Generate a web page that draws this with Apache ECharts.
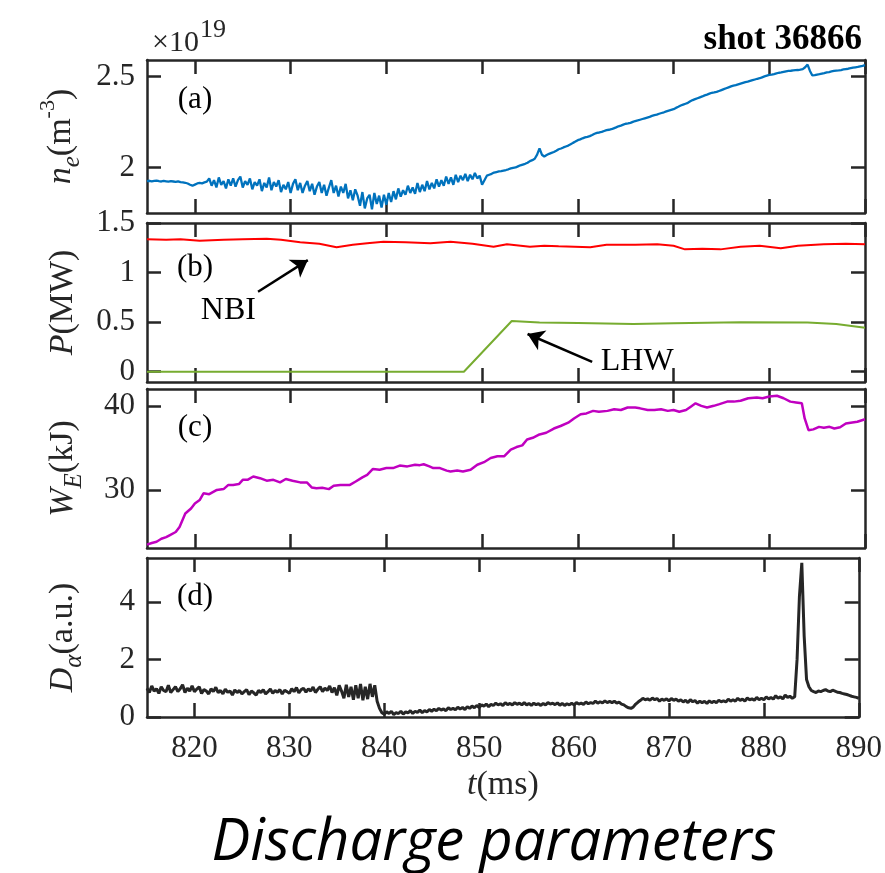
<!DOCTYPE html>
<html><head><meta charset="utf-8">
<script src="https://cdn.jsdelivr.net/npm/echarts@6/dist/echarts.min.js"></script>
<style>html,body{margin:0;padding:0;background:#fff}#c{width:885px;height:873px}</style>
</head><body><div id="c"></div>
<script>
// ---------- DATA ----------
const tStart = 815, tStep = 0.25;          // sample grid of the noisy signals (ms)
// (a) line-averaged density, units of 1e19 m^-3, one row = 5 ms
const neValues = [
  1.925,1.927,1.924,1.926,1.928,1.925,1.923,1.926,1.924,1.922,1.925,1.923,1.921,1.924,1.92,1.918,1.916,1.912,1.905,1.900,
  1.906,1.912,1.915,1.913,1.918,1.922,1.94,1.9,1.93,1.89,1.945,1.905,1.925,1.885,1.935,1.9,1.94,1.895,1.93,1.95,
  1.89,1.925,1.905,1.94,1.88,1.92,1.9,1.935,1.87,1.915,1.89,1.945,1.875,1.92,1.895,1.93,1.865,1.905,1.88,1.92,
  1.86,1.91,1.935,1.875,1.915,1.86,1.9,1.925,1.87,1.91,1.85,1.895,1.92,1.86,1.905,1.845,1.89,1.93,1.86,1.9,
  1.84,1.895,1.86,1.91,1.83,1.875,1.82,1.88,1.845,1.79,1.865,1.775,1.83,1.85,1.77,1.86,1.8,1.845,1.78,1.85,
  1.795,1.86,1.81,1.87,1.825,1.885,1.84,1.875,1.85,1.9,1.86,1.89,1.855,1.915,1.865,1.905,1.87,1.925,1.88,1.915,
  1.885,1.935,1.895,1.93,1.9,1.95,1.91,1.945,1.905,1.96,1.92,1.955,1.93,1.965,1.925,1.96,1.935,1.97,1.94,1.955,
  1.905,1.93,1.955,1.96,1.965,1.972,1.975,1.978,1.98,1.983,1.986,1.99,1.995,1.998,2.0,2.006,2.012,2.016,2.02,2.026,
  2.035,2.04,2.048,2.07,2.105,2.07,2.06,2.068,2.075,2.08,2.085,2.092,2.10,2.104,2.11,2.115,2.12,2.127,2.135,2.142,
  2.15,2.154,2.16,2.165,2.168,2.172,2.178,2.185,2.19,2.192,2.195,2.2,2.205,2.207,2.21,2.215,2.22,2.226,2.23,2.235,
  2.24,2.242,2.245,2.25,2.255,2.258,2.262,2.266,2.27,2.274,2.278,2.283,2.287,2.29,2.295,2.299,2.303,2.308,2.312,2.316,
  2.32,2.327,2.333,2.34,2.345,2.35,2.355,2.363,2.37,2.375,2.38,2.385,2.39,2.396,2.40,2.405,2.41,2.412,2.415,2.42,
  2.425,2.43,2.435,2.44,2.445,2.449,2.452,2.456,2.46,2.464,2.468,2.471,2.475,2.479,2.483,2.487,2.49,2.495,2.50,2.504,
  2.508,2.51,2.513,2.517,2.52,2.522,2.525,2.528,2.53,2.531,2.533,2.534,2.535,2.537,2.54,2.55,2.565,2.53,2.505,2.507,
  2.51,2.512,2.515,2.518,2.522,2.524,2.527,2.53,2.532,2.533,2.535,2.538,2.54,2.542,2.545,2.548,2.55,2.552,2.555,2.558,
  2.562
];
// (b) heating power, MW : [t, P]
const nbiPower = [[815,1.335],[817,1.33],[818.5,1.335],[820.5,1.32],[823,1.33],[825,1.335],[827.5,1.34],[829,1.33],[831,1.305],[833,1.29],[834.8,1.255],[836.5,1.28],[838,1.295],[839.7,1.31],[842,1.305],[844.6,1.295],[846.7,1.31],[849,1.29],[851.2,1.26],[852.6,1.285],[855,1.26],[856.5,1.27],[858,1.265],[861.3,1.255],[863,1.28],[866,1.28],[868.3,1.285],[870,1.27],[871.2,1.234],[873,1.24],[874.9,1.234],[877,1.26],[879,1.27],[881.2,1.245],[883,1.27],[885.7,1.285],[888,1.29],[890,1.285]];
const lhwPower = [[815,0],[848.1,0],[853.1,0.511],[856,0.495],[860,0.49],[865.8,0.48],[870,0.488],[877,0.50],[884,0.495],[887,0.48],[890,0.443]];
// (c) stored energy, kJ : [t, W]
const storedEnergy = [[815,23.5],[815.5,23.7],[816,23.85],[816.5,24.2],[817,24.4],[817.4,24.64],[818,25.0],[818.4,25.6],[819,27.2],[819.6,27.8],[820,28.4],[820.5,28.8],[820.9,29.6],[821.5,29.5],[822.3,30.0],[823,30.1],[823.5,30.6],[824,30.6],[824.6,30.7],[825,31.2],[825.5,31.2],[826.1,31.6],[826.8,31.4],[827.5,31.1],[828.2,31.2],[828.9,30.9],[829.5,31.3],[830.2,31.1],[831,30.9],[831.7,30.9],[832.2,30.3],[832.7,30.2],[833.3,30.25],[834,30.1],[834.5,30.5],[835.2,30.6],[836.2,30.6],[836.8,31.0],[837.5,31.5],[838,31.8],[838.6,32.5],[839.3,32.4],[840,32.6],[840.7,32.6],[841.4,32.9],[842.2,32.8],[843,33.0],[843.5,32.95],[843.9,33.05],[844.5,32.8],[844.9,32.6],[845.6,32.6],[846.3,32.3],[846.7,32.2],[847.4,32.3],[848,32.2],[848.8,32.4],[849.5,33.0],[850.2,33.3],[850.9,33.8],[851.6,34.0],[852.3,34.0],[853,34.8],[853.6,35.1],[854.2,35.3],[854.7,36.0],[855.3,36.2],[856,36.6],[856.7,36.8],[857.5,37.3],[858.2,37.6],[859,38.0],[859.6,38.5],[860.3,39.0],[860.9,39.1],[861.6,39.4],[862.2,39.3],[863.1,39.4],[863.8,39.6],[864.5,39.5],[865.2,39.8],[866,39.8],[866.5,39.7],[867.3,39.5],[868,39.5],[868.7,39.6],[869.4,39.4],[870,39.5],[870.6,39.3],[871.3,39.5],[871.8,39.9],[872.3,40.3],[872.9,40.0],[873.5,39.8],[874.2,40.0],[874.8,40.2],[875.6,40.5],[876.3,40.5],[877,40.6],[877.8,40.9],[878.7,41.0],[879.3,40.9],[880,41.1],[880.8,41.2],[881.5,40.9],[882.2,40.5],[882.8,40.4],[883.4,40.3],[883.7,38.5],[884.1,37.1],[884.6,37.2],[885.2,37.5],[885.7,37.4],[886.3,37.5],[886.8,37.3],[887.4,37.45],[888,37.9],[888.5,38.0],[889.2,38.1],[890,38.4]];
// (d) D-alpha, a.u., one row = 5 ms
const daValues = [
  1.0,0.85,1.08,0.9,0.98,0.82,1.05,0.92,0.88,1.1,0.85,0.95,1.05,0.88,0.98,1.12,0.85,1.0,0.9,1.08,
  0.88,0.97,1.05,0.82,0.95,0.9,0.8,0.98,0.88,1.03,0.85,0.92,0.8,0.97,0.86,0.9,0.76,0.94,0.85,0.92,
  0.8,0.88,0.95,0.78,0.9,0.84,0.76,0.92,0.85,0.95,0.8,0.88,0.97,0.82,0.92,0.86,0.95,0.8,0.93,0.88,
  0.82,0.98,0.88,1.02,0.84,0.95,1.0,0.86,0.98,0.9,1.04,0.85,0.96,1.05,0.88,1.0,0.92,1.08,0.85,1.02,
  0.75,1.1,0.9,0.65,1.12,0.7,1.05,0.6,1.1,0.65,1.15,0.58,1.05,0.62,1.15,0.7,1.1,0.55,0.3,0.15,
  0.1,0.18,0.12,0.2,0.08,0.15,0.12,0.2,0.1,0.18,0.14,0.22,0.12,0.2,0.16,0.24,0.15,0.22,0.18,0.26,
  0.2,0.27,0.22,0.3,0.24,0.28,0.22,0.32,0.26,0.3,0.25,0.34,0.28,0.33,0.26,0.36,0.3,0.38,0.32,0.4,
  0.33,0.42,0.38,0.45,0.36,0.44,0.4,0.48,0.42,0.46,0.4,0.5,0.43,0.47,0.42,0.5,0.44,0.48,0.42,0.5,
  0.42,0.47,0.4,0.48,0.43,0.46,0.4,0.47,0.42,0.5,0.45,0.48,0.43,0.49,0.41,0.47,0.4,0.46,0.42,0.48,
  0.42,0.5,0.45,0.48,0.44,0.52,0.46,0.5,0.47,0.55,0.48,0.53,0.49,0.56,0.5,0.54,0.5,0.55,0.48,0.52,
  0.45,0.42,0.36,0.32,0.3,0.35,0.45,0.52,0.58,0.65,0.6,0.63,0.58,0.66,0.6,0.64,0.55,0.62,0.58,0.63,
  0.56,0.64,0.58,0.62,0.55,0.6,0.52,0.58,0.5,0.6,0.53,0.57,0.48,0.55,0.5,0.54,0.47,0.56,0.5,0.55,
  0.5,0.58,0.53,0.56,0.52,0.62,0.55,0.6,0.55,0.65,0.58,0.62,0.55,0.66,0.6,0.63,0.58,0.68,0.6,0.65,
  0.6,0.7,0.63,0.68,0.62,0.74,0.65,0.7,0.63,0.76,0.68,0.72,0.65,0.7,2.0,4.2,5.35,2.8,1.3,1.05,
  0.92,0.88,0.85,0.9,0.88,0.92,0.95,0.9,0.88,0.93,0.9,0.86,0.85,0.82,0.8,0.78,0.75,0.72,0.7,0.68,
  0.65
];
const xTicks = [820,830,840,850,860,870,880,890];
const yTicksA = [2, 2.5];
const yTicksB = [0, 0.5, 1, 1.5];
const yTicksC = [30, 40];
const yTicksD = [0, 2, 4];
const panelLetters = ['(a)','(b)','(c)','(d)'];
const nbiArrow = [[826.6,0.806],[831.8,1.126]];
const lhwArrow = [[861.5,0.10],[854.75,0.38]];
const nbiLabelAt = [823.5,0.62];
const lhwLabelAt = [866.2,0.098];

// ---------- CHART ----------
const AX = '#262626';
const SERIF = '"Liberation Serif","Times New Roman",serif';
const FS = 31;
const grids = [
  {left:147, right:20, top:60,  height:153},
  {left:147, right:20, top:223, height:159},
  {left:147, right:20, top:389, height:159},
  {left:147, right:20, top:558, height:159}
];
const yRanges = [
  {min:1.75, max:2.59, ticks:yTicksA},
  {min:-0.104, max:1.5, ticks:yTicksB},
  {min:23.1, max:42.0, ticks:yTicksC},
  {min:0, max:5.52, ticks:yTicksD}
];
const richName = {
  i:   {fontFamily:SERIF, fontSize:34, fontStyle:'italic', color:AX, lineHeight:48, verticalAlign:'middle'},
  r:   {fontFamily:SERIF, fontSize:34, color:AX, lineHeight:48, verticalAlign:'middle'},
  sub: {fontFamily:SERIF, fontSize:25, fontStyle:'italic', color:AX, lineHeight:22, verticalAlign:'bottom'},
  sup: {fontFamily:SERIF, fontSize:22, color:AX, lineHeight:22, verticalAlign:'top'}
};
const yNames = [
  '{i|n}{sub|e}{r|(m}{sup|-3}{r|)}',
  '{i|P}{r|(MW)}',
  '{i|W}{sub|E}{r|(kJ)}',
  '{i|D}{sub|α}{r|(a.u.)}'
];

const tickStyle = {color:AX, width:2.5};
const xAxes = [], yAxes = [];
grids.forEach((g, gi) => {
  ['bottom','top'].forEach(pos => {
    const isMain = pos === 'bottom';
    const showLab = isMain && gi === 3;
    const ax = {
      type:'value', gridIndex:gi, position:pos, min:815, max:890,
      axisLine:{show:true, onZero:false, lineStyle:{color:AX, width:2.5}},
      axisTick:{show:true, inside:true, length:14, customValues:xTicks, lineStyle:tickStyle},
      axisLabel:{show:showLab, customValues:xTicks, margin:16, fontSize:FS, fontFamily:SERIF, color:AX},
      splitLine:{show:false}
    };
    if (showLab) {
      ax.name = '{i|t}{r|(ms)}';
      ax.nameLocation = 'middle';
      ax.nameGap = 44;
      ax.nameTextStyle = {rich:richName};
    }
    xAxes.push(ax);
  });
  ['left','right'].forEach(pos => {
    const isMain = pos === 'left';
    const r = yRanges[gi];
    const ay = {
      type:'value', gridIndex:gi, position:pos, min:r.min, max:r.max,
      axisLine:{show:true, onZero:false, lineStyle:{color:AX, width:2.5}},
      axisTick:{show:true, inside:true, length:14, customValues:r.ticks, lineStyle:tickStyle},
      axisLabel:{show:isMain, customValues:r.ticks, margin:12, fontSize:FS, fontFamily:SERIF, color:AX,
                 formatter: v => String(v)},
      splitLine:{show:false}
    };
    if (isMain) {
      ay.name = yNames[gi];
      ay.nameLocation = 'middle';
      ay.nameGap = 60;
      ay.nameTextStyle = {rich:richName};
    }
    yAxes.push(ay);
  });
});

const onGrid = (arr) => arr.map((v, i) => [tStart + i * tStep, v]);
const arrowLine = (pts) => ({
  silent:true, symbol:['none','arrow'], symbolSize:16, animation:false,
  lineStyle:{color:'#000', width:2.5, type:'solid'}, itemStyle:{color:'#000'}, label:{show:false},
  emphasis:{disabled:true},
  data:[[{coord:pts[0]},{coord:pts[1]}]]
});
const textPoint = (pt, txt) => ({
  silent:true, symbol:'circle', symbolSize:0, animation:false,
  label:{show:true, position:'inside', formatter:txt, fontFamily:SERIF, fontSize:32, color:'#000'},
  data:[{coord:pt}]
});

const series = [
  {type:'line', name:'ne', xAxisIndex:0, yAxisIndex:0, data:onGrid(neValues), showSymbol:false,
   lineStyle:{color:'#0072BD', width:2.3}, itemStyle:{color:'#0072BD'}},
  {type:'line', name:'NBI', xAxisIndex:2, yAxisIndex:2, data:nbiPower, showSymbol:false,
   lineStyle:{color:'#FF0000', width:2}, itemStyle:{color:'#FF0000'},
   markLine:arrowLine(nbiArrow), markPoint:textPoint(nbiLabelAt,'NBI')},
  {type:'line', name:'LHW', xAxisIndex:2, yAxisIndex:2, data:lhwPower, showSymbol:false,
   lineStyle:{color:'#77AC30', width:2}, itemStyle:{color:'#77AC30'},
   markLine:arrowLine(lhwArrow), markPoint:textPoint(lhwLabelAt,'LHW')},
  {type:'line', name:'WE', xAxisIndex:4, yAxisIndex:4, data:storedEnergy, showSymbol:false,
   lineStyle:{color:'#C000C0', width:2.5}, itemStyle:{color:'#C000C0'}},
  {type:'line', name:'Da', xAxisIndex:6, yAxisIndex:6, data:onGrid(daValues), showSymbol:false,
   lineStyle:{color:'#262626', width:3}, itemStyle:{color:'#262626'}}
];

const panelLabelY = [100, 268, 428, 597];
const graphic = [
  {type:'text', x:862, y:40, style:{text:'shot 36866', font:'bold 35px ' + SERIF, fill:'#000', textAlign:'right', textVerticalAlign:'middle'}},
  {type:'text', x:152, y:43, style:{text:'×10', font:'30px ' + SERIF, fill:AX, textAlign:'left', textVerticalAlign:'middle'}},
  {type:'text', x:200, y:30, style:{text:'19', font:'26px ' + SERIF, fill:AX, textAlign:'left', textVerticalAlign:'middle'}},
  {type:'text', x:494, y:843, style:{text:'Discharge parameters', font:'italic 58px "Open Sans", Lato, sans-serif', fill:'#000', textAlign:'center', textVerticalAlign:'middle'}}
].concat(panelLetters.map((t, i) => ({
  type:'text', x:195, y:panelLabelY[i],
  style:{text:t, font:'31px ' + SERIF, fill:'#000', textAlign:'center', textVerticalAlign:'middle'}
})));

const chart = echarts.init(document.getElementById('c'), null, {renderer:'canvas'});
chart.setOption({
  animation:false,
  backgroundColor:'#fff',
  grid:grids,
  xAxis:xAxes,
  yAxis:yAxes,
  series:series,
  graphic:graphic
});
</script></body></html>
